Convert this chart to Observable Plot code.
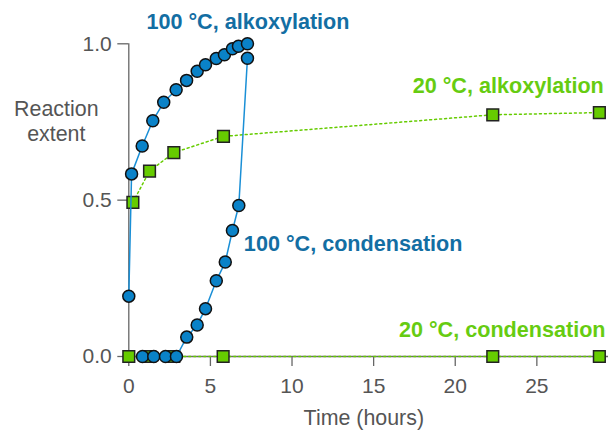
<!DOCTYPE html>
<html>
<head>
<meta charset="utf-8">
<script src="https://cdn.jsdelivr.net/npm/d3@7"></script>
<script src="https://cdn.jsdelivr.net/npm/@observablehq/plot@0.6"></script>
<style>
  html, body { margin: 0; padding: 0; background: #fff; }
  #chart svg { display: block; }
</style>
</head>
<body>
<div id="chart"></div>
<script>
// ---- data ----
const alk100Time  = [0, 0.17, 0.82, 1.47, 2.14, 2.90, 3.54, 4.19, 4.70, 5.36, 5.86, 6.35, 6.72, 7.27];
const alk100Value = [0.193, 0.584, 0.673, 0.754, 0.813, 0.853, 0.883, 0.912, 0.933, 0.953, 0.965, 0.984, 0.992, 1.0];

const cond100Time  = [0.84, 1.53, 2.25, 2.92, 3.55, 4.19, 4.70, 5.36, 5.91, 6.35, 6.74, 7.27];
const cond100Value = [0, 0, 0, 0, 0.062, 0.101, 0.153, 0.242, 0.302, 0.403, 0.483, 0.954];

const alk20Time  = [0.25, 1.27, 2.76, 5.80, 22.3, 28.83];
const alk20Value = [0.493, 0.593, 0.652, 0.704, 0.773, 0.780];

const cond20Time  = [0, 1.27, 2.76, 5.78, 22.3, 28.83];
const cond20Value = [0, 0, 0, 0, 0, 0];

const xTicks = [0, 5, 10, 15, 20, 25];
const yTicks = [0, 0.5, 1.0];
const seriesNames = ["100 °C, alkoxylation", "20 °C, alkoxylation", "100 °C, condensation", "20 °C, condensation"];
const xTitle = "Time (hours)";
const yTitleLines = ["Reaction", "extent"];

const blueLine = "#1a8fd6", blueFill = "#0a82c8", blueText = "#136ea3";
const greenFill = "#66cc00", greenText = "#66cc11";
const axisGray = "#666", textGray = "#555";

const toRows = (ts, vs) => ts.map((t, i) => ({t, v: vs[i]}));
const alk100 = toRows(alk100Time, alk100Value);
const cond100 = toRows(cond100Time, cond100Value);
const alk20 = toRows(alk20Time, alk20Value);
const cond20 = toRows(cond20Time, cond20Value);

const font = "'Liberation Sans', Arial, sans-serif";
const xMax = 29.39;

const chart = Plot.plot({
  width: 608,
  height: 431,
  marginLeft: 128.3,
  marginRight: 0,
  marginTop: 43.3,
  marginBottom: 75,
  style: {fontFamily: font, background: "#fff", overflow: "visible"},
  x: {domain: [0, xMax]},
  y: {domain: [0, 1]},
  marks: [
    Plot.ruleX([0], {y1: 0, y2: 1, stroke: axisGray, strokeWidth: 1.3}),
    Plot.ruleY([0], {x1: 0, x2: xMax, stroke: axisGray, strokeWidth: 1.3}),
    Plot.axisX({ticks: xTicks, tickSize: 10, tickPadding: 12, fontSize: 21, color: textGray, stroke: axisGray, strokeWidth: 1.3, label: null}),
    Plot.axisY({ticks: yTicks, tickFormat: d3.format(".1f"), tickSize: 11, tickPadding: 6, fontSize: 21, color: textGray, stroke: axisGray, strokeWidth: 1.3, label: null}),
    Plot.text([xTitle], {x: 14.4, y: -0.196, fontSize: 21.4, fill: textGray}),
    Plot.text([yTitleLines[0]], {x: -4.44, y: 0.79, fontSize: 21.4, fill: textGray}),
    Plot.text([yTitleLines[1]], {x: -4.44, y: 0.712, fontSize: 21.4, fill: textGray}),
    // 20 °C series
    Plot.line(cond20, {x: "t", y: "v", stroke: greenFill, strokeWidth: 1.5, strokeDasharray: "2,3"}),
    Plot.line(alk20, {x: "t", y: "v", stroke: greenFill, strokeWidth: 1.5, strokeDasharray: "2,3"}),
    Plot.dot(cond20, {x: "t", y: "v", symbol: "square", r: 6.6, fill: greenFill, stroke: "#222", strokeWidth: 1.5}),
    Plot.dot(alk20, {x: "t", y: "v", symbol: "square", r: 6.6, fill: greenFill, stroke: "#222", strokeWidth: 1.5}),
    // 100 °C series
    Plot.line(cond100, {x: "t", y: "v", stroke: blueLine, strokeWidth: 1.5}),
    Plot.line(alk100, {x: "t", y: "v", stroke: blueLine, strokeWidth: 1.5}),
    Plot.dot(cond100, {x: "t", y: "v", r: 6, fill: blueFill, stroke: "#111", strokeWidth: 1.5}),
    Plot.dot(alk100, {x: "t", y: "v", r: 6, fill: blueFill, stroke: "#111", strokeWidth: 1.5}),
    // series labels
    Plot.text([seriesNames[0]], {x: 7.30, y: 1.068, textAnchor: "middle", fontSize: 21.6, fontWeight: "bold", fill: blueText}),
    Plot.text([seriesNames[1]], {x: 29.1, y: 0.864, textAnchor: "end", fontSize: 21.6, fontWeight: "bold", fill: greenText}),
    Plot.text([seriesNames[2]], {x: 7.05, y: 0.359, textAnchor: "start", fontSize: 21.6, fontWeight: "bold", fill: blueText}),
    Plot.text([seriesNames[3]], {x: 29.21, y: 0.085, textAnchor: "end", fontSize: 21.6, fontWeight: "bold", fill: greenText})
  ]
});
document.getElementById("chart").appendChild(chart);
</script>
</body>
</html>
